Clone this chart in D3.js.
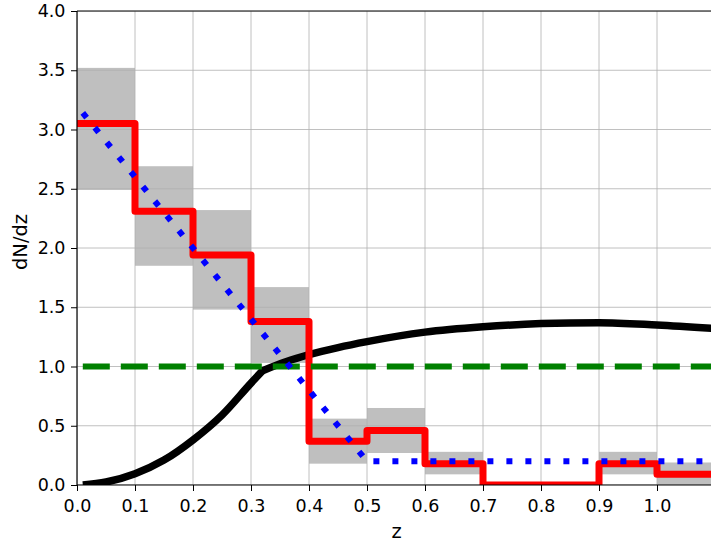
<!DOCTYPE html>
<html><head><meta charset="utf-8">
<script src="https://cdn.jsdelivr.net/npm/d3@7"></script>
<style>body{margin:0;background:#fff}svg{display:block}text{font-family:"DejaVu Sans",sans-serif;fill:#000}</style>
</head><body><svg id="c" width="711" height="544"></svg>
<script>
// bins (left edges, width 0.1)
const binEdges = [0,0.1,0.2,0.3,0.4,0.5,0.6,0.7,0.8,0.9,1.0,1.1];
const redValues = [3.05,2.31,1.94,1.38,0.37,0.46,0.18,0,0,0.18,0.09];
const bandLow  = [2.49,1.85,1.48,1.03,0.18,0.27,0.09,0,0,0.09,0];
const bandHigh = [3.52,2.69,2.32,1.67,0.56,0.65,0.28,0,0,0.28,0.19];
const blueZ = [0.01,0.5,1.1];
const blueY = [3.14,0.2,0.2];
const greenZ = [0.01,1.1];
const greenY = [1.0,1.0];
// black curve: rising part (up to kink) and slow part (after kink)
const blackZ1 = [0.01,0.05,0.1,0.15,0.2,0.25,0.3,0.32];
const blackY1 = [0.0,0.025,0.095,0.21,0.38,0.59,0.86,0.965];
const blackZ2 = [0.32,0.36,0.4,0.45,0.5,0.6,0.7,0.8,0.9,1.0,1.1];
const blackY2 = [0.965,1.04,1.10,1.16,1.21,1.29,1.335,1.362,1.37,1.35,1.32];
const xTicks = [0,0.1,0.2,0.3,0.4,0.5,0.6,0.7,0.8,0.9,1.0];
const yTicks = [0,0.5,1,1.5,2,2.5,3,3.5,4];

const svg = d3.select("#c");
const L=77,T=11,B=485,R=715;
const x = d3.scaleLinear().domain([0,1.1]).range([L,R]);
const y = d3.scaleLinear().domain([0,4]).range([B,T]);

svg.append("defs").append("clipPath").attr("id","cp").append("rect")
  .attr("x",L).attr("y",T).attr("width",R-L).attr("height",B-T);
const g = svg.append("g").attr("clip-path","url(#cp)");

// bands
g.selectAll("rect.band").data(redValues).enter().append("rect")
  .attr("x",(d,i)=>x(binEdges[i])).attr("width",(d,i)=>x(binEdges[i+1])-x(binEdges[i]))
  .attr("y",(d,i)=>y(bandHigh[i])).attr("height",(d,i)=>y(bandLow[i])-y(bandHigh[i]))
  .attr("fill","#bfbfbf");

// grid
g.selectAll("line.gx").data(xTicks).enter().append("line")
  .attr("x1",d=>x(d)).attr("x2",d=>x(d)).attr("y1",T).attr("y2",B)
  .attr("stroke","#b0b0b0").attr("stroke-width",0.8);
g.selectAll("line.gy").data(yTicks).enter().append("line")
  .attr("x1",L).attr("x2",R).attr("y1",d=>y(d)).attr("y2",d=>y(d))
  .attr("stroke","#b0b0b0").attr("stroke-width",0.8);

// black curve
const line = d3.line().x(d=>x(d[0])).y(d=>y(d[1]));
const sm = d3.line().x(d=>x(d[0])).y(d=>y(d[1])).curve(d3.curveMonotoneX);
const p1 = sm(blackZ1.map((z,i)=>[z,blackY1[i]]));
const p2 = sm(blackZ2.map((z,i)=>[z,blackY2[i]])).replace(/^M/,"L");
g.append("path").attr("d",p1+p2)
  .attr("fill","none").attr("stroke","#000").attr("stroke-width",7.5).attr("stroke-linejoin","round");

// red step
const stepPts = [];
redValues.forEach((v,i)=>{stepPts.push([binEdges[i],v]);stepPts.push([binEdges[i+1],v]);});
g.append("path").attr("d",line(stepPts))
  .attr("fill","none").attr("stroke","#ff0000").attr("stroke-width",7).attr("stroke-linejoin","round");

// green dashed
g.append("path").attr("d",line(greenZ.map((z,i)=>[z,greenY[i]])))
  .attr("fill","none").attr("stroke","#008000").attr("stroke-width",6).attr("stroke-dasharray","27,11");

// blue dotted
g.append("path").attr("d",line(blueZ.map((z,i)=>[z,blueY[i]])))
  .attr("fill","none").attr("stroke","#0000ff").attr("stroke-width",6).attr("stroke-dasharray","6,13");

// spines
svg.append("line").attr("x1",L).attr("x2",L).attr("y1",T).attr("y2",B).attr("stroke","#000").attr("stroke-width",1.2);
svg.append("line").attr("x1",L).attr("x2",R).attr("y1",B).attr("y2",B).attr("stroke","#000").attr("stroke-width",1.2);
svg.append("line").attr("x1",L).attr("x2",R).attr("y1",T).attr("y2",T).attr("stroke","#000").attr("stroke-width",1.2);

// axes
const xa = svg.append("g").attr("transform",`translate(0,${B})`)
  .call(d3.axisBottom(x).tickValues(xTicks).tickFormat(d3.format(".1f")).tickSize(6).tickPadding(8.5));
const ya = svg.append("g").attr("transform",`translate(${L},0)`)
  .call(d3.axisLeft(y).tickValues(yTicks).tickFormat(d3.format(".1f")).tickSize(6).tickPadding(5.5));
[xa,ya].forEach(a=>{a.select(".domain").remove();
  a.selectAll("text").attr("font-size",17.5).attr("font-family","DejaVu Sans").attr("fill","#000");
  a.selectAll("line").attr("stroke","#000").attr("stroke-width",1);});

svg.append("text").attr("x",396.5).attr("y",538).attr("text-anchor","middle").attr("font-size",19.5).text("z");
svg.append("text").attr("transform","translate(27,242) rotate(-90)").attr("text-anchor","middle").attr("font-size",19.5).text("dN/dz");
</script></body></html>
